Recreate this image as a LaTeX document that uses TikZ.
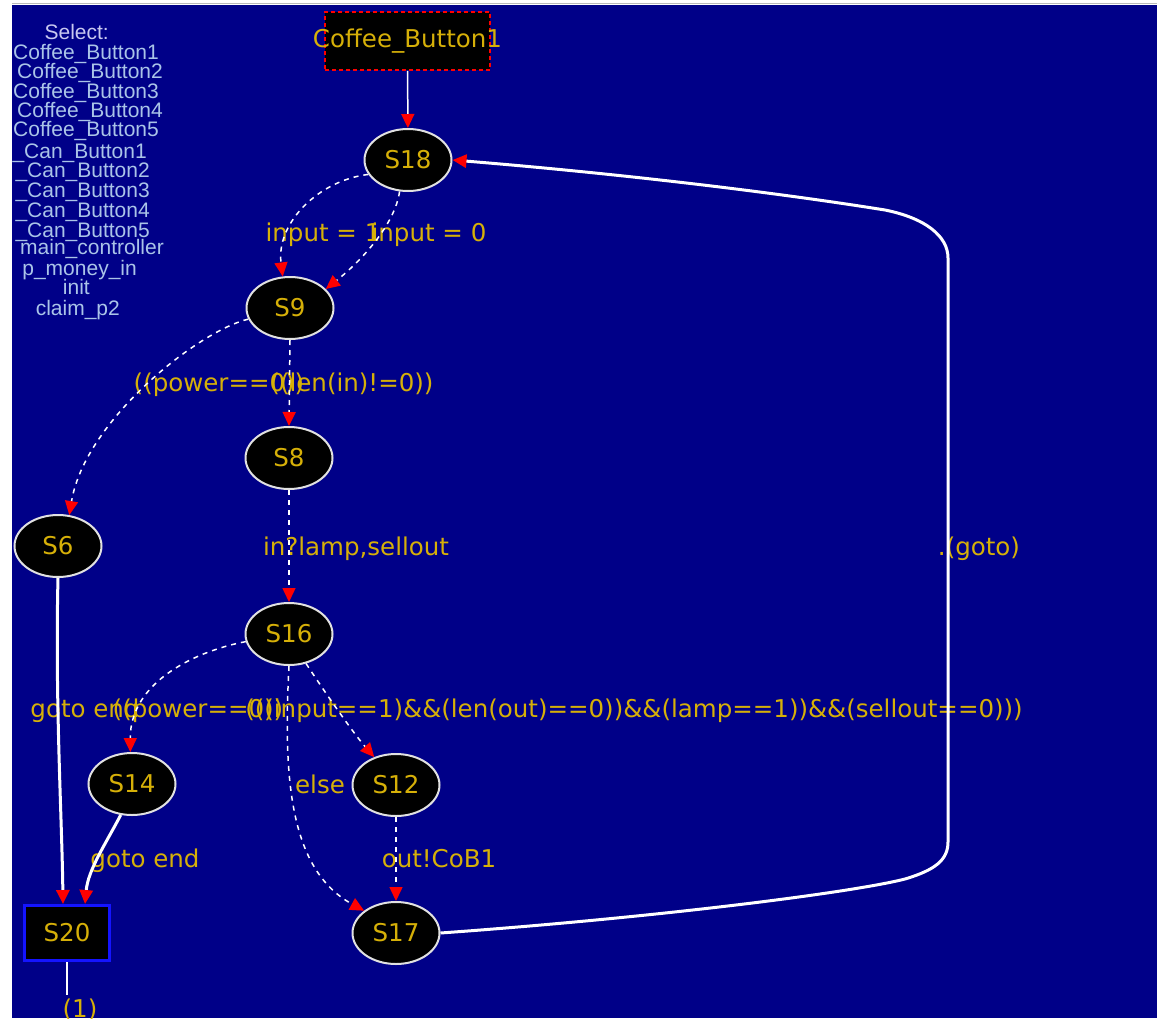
\documentclass[tikz,border=0pt]{standalone}
\usepackage{fontspec}
\setmainfont{DejaVu Sans}
\newfontfamily\legendfont{Liberation Sans}
\usetikzlibrary{shapes.geometric,arrows.meta}
\definecolor{navy}{RGB}{0,0,136}
\definecolor{lbl}{RGB}{214,176,8}
\definecolor{leg}{RGB}{170,196,232}
\definecolor{boxblue}{RGB}{20,20,255}
\begin{document}
\begin{tikzpicture}[x=1pt,y=-1pt,
  tip/.style={-{Triangle[length=14pt,width=13pt,color=red,fill=red]}},
  state/.style={ellipse,draw={rgb,255:red,225;green,225;blue,225},line width=2pt,fill=black,minimum width=87pt,minimum height=62pt,inner sep=0pt,text=lbl,font=\fontsize{24.5}{28}\selectfont},
  lab/.style={text=lbl,font=\fontsize{24.5}{28}\selectfont,inner sep=0pt,text height=18pt,text depth=0pt},
  legtxt/.style={text=leg,font=\legendfont\fontsize{21}{21}\selectfont,inner sep=0pt,text height=15pt,text depth=0pt,anchor=east},
  dedge/.style={draw=white,line width=1.5pt,dash pattern=on 5pt off 5pt,tip},
  sedge/.style={draw=white,line width=3pt,tip},
  thinedge/.style={draw=white,line width=1.5pt,tip}
]
\useasboundingbox (0,0) rectangle (1157,1018);
\fill[white] (0,0) rectangle (1157,1018);
\fill[navy] (12,5) rectangle (1157,1018);
\draw[gray!55,line width=1pt] (12,3.5) -- (1157,3.5);

% legend
\begin{scope}
\clip (12,5) rectangle (1157,1018);
\node[legtxt,text={rgb,255:red,200;green,200;blue,240}] (l0) at (109,32) {Select:};
\node[legtxt] (l1) at (159,52) {Coffee\_Button1};
\node[legtxt] (l2) at (163,71) {Coffee\_Button2};
\node[legtxt] (l3) at (159,91) {Coffee\_Button3};
\node[legtxt] (l4) at (163,110) {Coffee\_Button4};
\node[legtxt] (l5) at (159,129) {Coffee\_Button5};
\node[legtxt] (l6) at (147,151) {\_Can\_Button1};
\node[legtxt] (l7) at (150,170) {\_Can\_Button2};
\node[legtxt] (l8) at (150,190) {\_Can\_Button3};
\node[legtxt] (l9) at (150,210) {\_Can\_Button4};
\node[legtxt] (l10) at (150,230) {\_Can\_Button5};
\node[legtxt] (l11) at (164,247) {main\_controller};
\node[legtxt] (l12) at (137,268) {p\_money\_in};
\node[legtxt] (l13) at (90,287) {init};
\node[legtxt] (l14) at (120,308) {claim\_p2};
\end{scope}

% nodes
\node[rectangle,draw=red,line width=1.5pt,dash pattern=on 4pt off 3pt,fill=black,minimum width=165pt,minimum height=58pt,inner sep=0pt,text=lbl,font=\fontsize{24.5}{28}\selectfont] (cb) at (407.5,41) {\makebox[0pt][c]{Coffee\_Button1}};
\node[state] (S18) at (408,160) {S18};
\node[state] (S9) at (290,308) {S9};
\node[state] (S8) at (289,458) {S8};
\node[state] (S6) at (58,546) {S6};
\node[state] (S16) at (289,634) {S16};
\node[state] (S14) at (132,784) {S14};
\node[state] (S12) at (396,785) {S12};
\node[state] (S17) at (396,933) {S17};
\node[rectangle,draw=boxblue,line width=3pt,fill=black,minimum width=85pt,minimum height=55pt,inner sep=0pt,text=lbl,font=\fontsize{24.5}{28}\selectfont] (S20) at (67,933) {S20};
\coordinate (s20end) at (67,995);

% labels
\node[lab] (t1) at (323,232) {input = 1};
\node[lab] (t2) at (429,232) {input = 0};
\node[lab] (t3) at (219,382) {((power==0))};
\node[lab] (t4) at (352,382) {((len(in)!=0))};
\node[lab] (t5) at (356,546) {in?lamp,sellout};
\node[lab] (t6) at (85,708) {goto end};
\node[lab] (t7) at (198,708) {((power==0))};
\node[lab] (t8) at (634,708) {(((input==1)\&\&(len(out)==0))\&\&(lamp==1))\&\&(sellout==0)))};
\node[lab] (t9) at (320,784) {else};
\node[lab] (t10) at (439,858) {out!CoB1};
\node[lab] (t11) at (145,858) {goto end};
\node[lab] (t12) at (979,546) {.(goto)};
\node[lab] (t13) at (80,1008) {(1)};

% edges
\draw[thinedge] (cb) -- (S18);
\draw[dedge] (S18.200) .. controls (320,180) and (276,222) .. (S9.103);
\draw[dedge] (S18.255) .. controls (395,225) and (360,262) .. (S9.28);
\draw[dedge] (S9.195) .. controls (200,330) and (85,420) .. (S6.70);
\draw[dedge] (S9.south) -- (S8.north);
\draw[dedge] (S8.south) -- (S16.north);
\draw[dedge] (S16.190) .. controls (200,650) and (130,680) .. (S14.93);
\draw[dedge] (S16.300) .. controls (330,700) and (355,735) .. (S12.128);
\draw[dedge] (S16.south) .. controls (283,780) and (290,870) .. (S17.145);
\draw[dedge] (S12.south) -- (S17.north);
\draw[sedge] (S6.south) .. controls (55,700) and (62,820) .. ([xshift=-4pt]S20.north);
\draw[sedge] (S14.250) .. controls (105,845) and (88,870) .. ([xshift=18pt]S20.north);
\draw[white,line width=1.5pt] (S20.south) -- (s20end);
\draw[sedge] (S17.east) .. controls (650,918) and (850,893) .. (905,879)
  .. controls (935,870) and (948,860) .. (948,842) -- (948,258)
  .. controls (948,236) and (925,218) .. (885,210)
  .. controls (760,190) and (600,172) .. (S18.east);
\end{tikzpicture}
\end{document}
